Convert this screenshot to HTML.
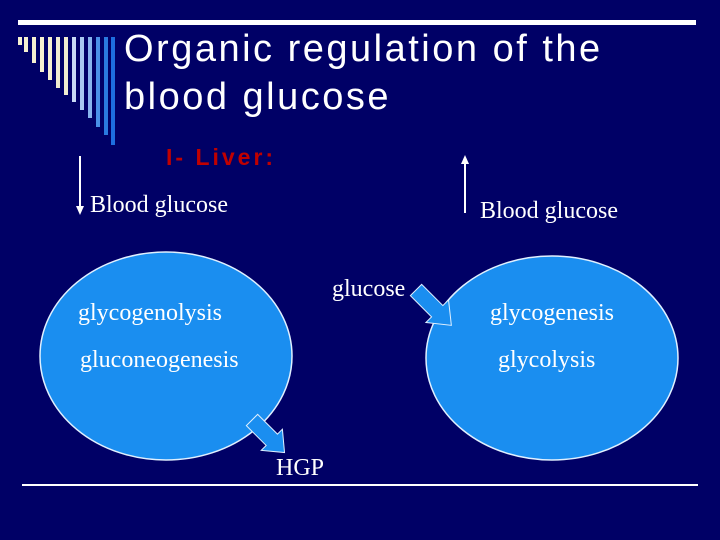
<!DOCTYPE html>
<html><head><style>
body{margin:0;width:720px;height:540px;background:#000066;overflow:hidden;position:relative;font-family:"Liberation Serif",serif;color:#fff}
.t{position:absolute;white-space:nowrap;font-size:24px}
</style></head><body>
<svg width="720" height="540" style="position:absolute;left:0;top:0">
<rect x="18" y="20" width="678" height="5" fill="#fff"/>
<g stroke-width="4">
<line x1="20" y1="37" x2="20" y2="45" stroke="#f5f0d0"/>
<line x1="26" y1="37" x2="26" y2="52" stroke="#f5f0d0"/>
<line x1="34" y1="37" x2="34" y2="63" stroke="#f5f0d0"/>
<line x1="42" y1="37" x2="42" y2="72" stroke="#f5f0d0"/>
<line x1="50" y1="37" x2="50" y2="80" stroke="#f5f0d0"/>
<line x1="58" y1="37" x2="58" y2="88" stroke="#f0ecd0"/>
<line x1="66" y1="37" x2="66" y2="95" stroke="#f0ecd0"/>
<line x1="74" y1="37" x2="74" y2="102" stroke="#c8daf5"/>
<line x1="82" y1="37" x2="82" y2="110" stroke="#a8c8f0"/>
<line x1="90" y1="37" x2="90" y2="118" stroke="#88b4ee"/>
<line x1="98" y1="37" x2="98" y2="127" stroke="#4a90e8"/>
<line x1="106" y1="37" x2="106" y2="135" stroke="#2a7ae0"/>
<line x1="113" y1="37" x2="113" y2="145" stroke="#1e6ee0"/>
</g>
<line x1="80" y1="156" x2="80" y2="208" stroke="#fff" stroke-width="2"/>
<polygon points="76,206 84,206 80,215" fill="#fff"/>
<line x1="465" y1="162" x2="465" y2="213" stroke="#fff" stroke-width="2"/>
<polygon points="461,164 469,164 465,155" fill="#fff"/>
<ellipse cx="166" cy="356" rx="126" ry="104" fill="#1a8ef0" stroke="#e0f0ff" stroke-width="1.5"/>
<ellipse cx="552" cy="358" rx="126" ry="102" fill="#1a8ef0" stroke="#e0f0ff" stroke-width="1.5"/>
<g fill="#1a8ef0" stroke="#e0f0ff" stroke-width="1">
<polygon points="0,-8 30,-8 30,-16 50,0 30,16 30,8 0,8" transform="translate(416,290) rotate(45)"/>
<polygon points="0,-8 28,-8 28,-15 46,0 28,15 28,8 0,8" transform="translate(252,420) rotate(45)"/>
</g>
<rect x="22" y="484" width="676" height="2" fill="#fff"/>
</svg>
<div class="t" style="left:124px;top:25px;font-family:'Liberation Sans',sans-serif;font-size:38px;line-height:48px;letter-spacing:2.5px">Organic regulation of the<br>blood glucose</div>
<div class="t" style="left:166px;top:144px;font-family:'Liberation Sans',sans-serif;font-size:23px;font-weight:bold;color:#c00000;letter-spacing:3px">I- Liver:</div>
<div class="t" style="left:90px;top:192px">Blood glucose</div>
<div class="t" style="left:480px;top:198px">Blood glucose</div>
<div class="t" style="left:332px;top:276px">glucose</div>
<div class="t" style="left:78px;top:300px">glycogenolysis</div>
<div class="t" style="left:80px;top:347px">gluconeogenesis</div>
<div class="t" style="left:490px;top:300px">glycogenesis</div>
<div class="t" style="left:498px;top:347px">glycolysis</div>
<div class="t" style="left:276px;top:455px">HGP</div>
</body></html>
